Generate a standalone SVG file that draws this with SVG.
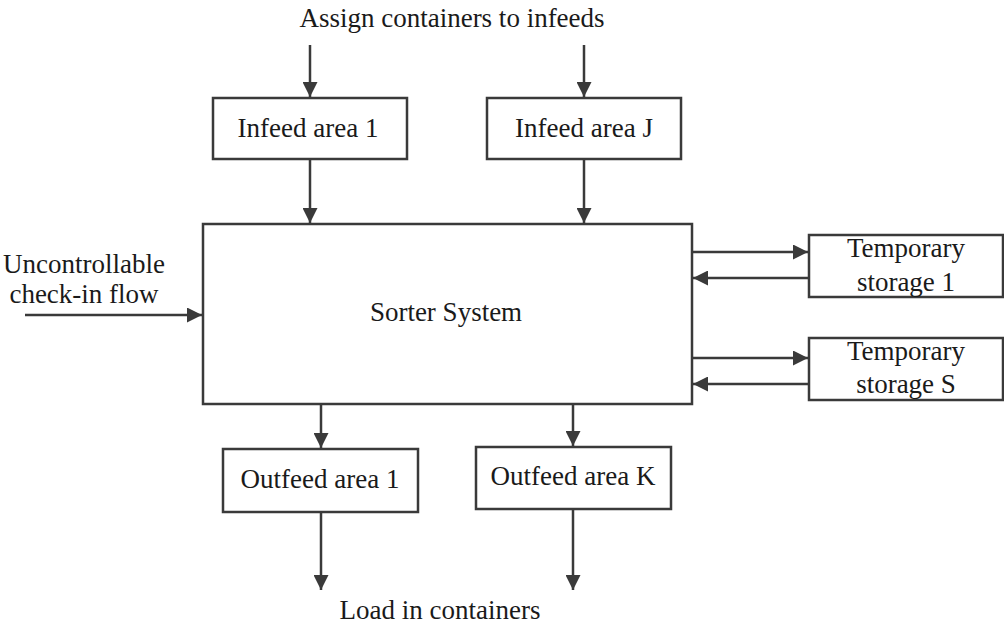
<svg xmlns="http://www.w3.org/2000/svg" width="1004" height="626" viewBox="0 0 1004 626">
  <style>
    .box { fill: #ffffff; stroke: #3a3a3a; stroke-width: 2.5; }
    .lbl { font-family: "Liberation Serif", "Times New Roman", serif; font-size: 27px; fill: #1a1a1a; text-anchor: middle; }
    .conn { stroke: #3a3a3a; stroke-width: 2.5; fill: none; marker-end: url(#arrow); }
  </style>
  <defs>
    <marker id="arrow" viewBox="0 0 15 15" refX="15" refY="7.5" markerWidth="15" markerHeight="15" markerUnits="userSpaceOnUse" orient="auto">
      <path d="M0,0 L15,7.5 L0,15 Z" fill="#3a3a3a"/>
    </marker>
  </defs>
  <rect width="1004" height="626" fill="#ffffff"/>

  <!-- free labels -->
  <text class="lbl" x="452" y="27">Assign containers to infeeds</text>
  <text class="lbl" x="84" y="273">Uncontrollable</text>
  <text class="lbl" x="84" y="303">check-in flow</text>
  <text class="lbl" x="440" y="619">Load in containers</text>

  <g id="infeed1">
    <rect class="box" x="213" y="98" width="194" height="61"/>
    <text class="lbl" x="308" y="137">Infeed area 1</text>
  </g>
  <g id="infeedJ">
    <rect class="box" x="487" y="98" width="194" height="61"/>
    <text class="lbl" x="584" y="137">Infeed area J</text>
  </g>
  <g id="sorter">
    <rect class="box" x="203" y="224" width="489" height="180"/>
    <text class="lbl" x="446" y="321">Sorter System</text>
  </g>
  <g id="storage1">
    <rect class="box" x="809" y="235" width="194" height="62"/>
    <text class="lbl" x="906" y="257">Temporary</text>
    <text class="lbl" x="906" y="291">storage 1</text>
  </g>
  <g id="storageS">
    <rect class="box" x="809" y="338" width="194" height="62"/>
    <text class="lbl" x="906" y="360">Temporary</text>
    <text class="lbl" x="906" y="393">storage S</text>
  </g>
  <g id="outfeed1">
    <rect class="box" x="223" y="449" width="195" height="63"/>
    <text class="lbl" x="320" y="488">Outfeed area 1</text>
  </g>
  <g id="outfeedK">
    <rect class="box" x="476" y="447" width="195" height="62"/>
    <text class="lbl" x="573" y="485">Outfeed area K</text>
  </g>

  <g id="connectors">
    <line class="conn" x1="310" y1="45" x2="310" y2="97"/>
    <line class="conn" x1="584" y1="45" x2="584" y2="97"/>
    <line class="conn" x1="310" y1="159" x2="310" y2="223"/>
    <line class="conn" x1="584" y1="159" x2="584" y2="223"/>
    <line class="conn" x1="25" y1="315" x2="202" y2="315"/>
    <line class="conn" x1="692" y1="252" x2="808" y2="252"/>
    <line class="conn" x1="809" y1="278" x2="693" y2="278"/>
    <line class="conn" x1="692" y1="358" x2="808" y2="358"/>
    <line class="conn" x1="809" y1="384" x2="693" y2="384"/>
    <line class="conn" x1="321" y1="404" x2="321" y2="448"/>
    <line class="conn" x1="573" y1="404" x2="573" y2="446"/>
    <line class="conn" x1="321" y1="512" x2="321" y2="590"/>
    <line class="conn" x1="573" y1="509" x2="573" y2="590"/>
  </g>
</svg>
